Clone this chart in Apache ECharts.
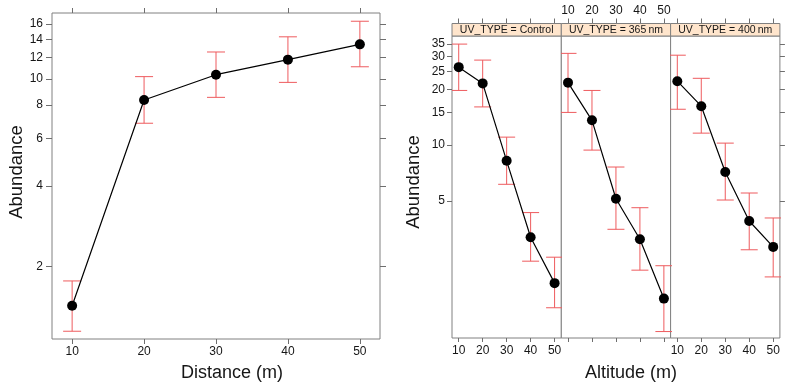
<!DOCTYPE html>
<html>
<head>
<meta charset="utf-8">
<script src="https://cdn.jsdelivr.net/npm/echarts@6/dist/echarts.min.js"></script>
<style>
html,body{margin:0;padding:0;background:#fff;}
#chart{width:791px;height:385px;}
</style>
</head>
<body>
<div id="chart"></div>
<script>
// ---------- data ----------
const distance = [10, 20, 30, 40, 50];
const distAbundance = [1.43, 8.35, 10.37, 11.8, 13.45];
const distLow = [1.15, 6.84, 8.54, 9.71, 11.1];
const distHigh = [1.77, 10.2, 12.6, 14.35, 16.4];

const altitude = [10, 20, 30, 40, 50];
const uvStripLabels = ['UV_TYPE = Control', 'UV_TYPE = 365\u2009nm', 'UV_TYPE = 400\u2009nm'];
const controlAbundance = [26.3, 21.5, 8.23, 3.19, 1.805];
const controlLow = [19.7, 16.06, 6.15, 2.37, 1.33];
const controlHigh = [35.0, 28.7, 11.04, 4.33, 2.49];
const nm365Abundance = [21.7, 13.6, 5.14, 3.11, 1.49];
const nm365Low = [15.0, 9.4, 3.52, 2.12, 0.99];
const nm365High = [31.2, 19.7, 7.62, 4.60, 2.24];
const nm400Abundance = [22.1, 16.2, 7.16, 3.90, 2.83];
const nm400Low = [15.6, 11.6, 5.06, 2.73, 1.95];
const nm400High = [30.5, 22.9, 10.25, 5.52, 4.05];

const xTickLabels = [10, 20, 30, 40, 50];
const leftYTickLabels = [2, 4, 6, 8, 10, 12, 14, 16];
const rightYTickLabels = [5, 10, 15, 20, 25, 30, 35];

// ---------- helpers ----------
const L = v => Math.log10(v);
const FONT = 'Liberation Sans, Arial, Helvetica, sans-serif';
const BORDER = '#808080';
const TICK = '#6e6e6e';
const TXT = '#161616';
const ERR = '#ee5b5e';

const xRange = [7.2, 52.8];
const leftYRange = [1.076, 17.6];
const rightYRange = [0.914, 38.7];

const panelsRight = [
  {vals: controlAbundance, lo: controlLow, hi: controlHigh},
  {vals: nm365Abundance, lo: nm365Low, hi: nm365High},
  {vals: nm400Abundance, lo: nm400Low, hi: nm400High}
];

const leftGrid = {left: 52, top: 13, width: 328, height: 326};
const rTop = 36, rHeight = 302, rLeft = 452, rWidth = 109.3, stripH = 12.5;

const grids = [Object.assign({show: true, borderColor: BORDER, borderWidth: 1, backgroundColor: '#fff'}, leftGrid)];
for (let i = 0; i < 3; i++) {
  grids.push({show: true, borderColor: BORDER, borderWidth: 1, backgroundColor: '#fff',
    left: rLeft + i * rWidth, top: rTop, width: rWidth, height: rHeight});
}

function xAx(gi, pos, ticks, labels, opts) {
  opts = opts || {};
  return {
    type: 'value', gridIndex: gi, position: pos, min: xRange[0], max: xRange[1],
    offset: opts.offset || 0,
    axisLine: {show: false, onZero: false}, splitLine: {show: false},
    axisTick: {show: ticks, customValues: xTickLabels, length: opts.tickLen || 5, lineStyle: {color: TICK, width: 1}},
    axisLabel: {show: labels, customValues: xTickLabels, fontSize: opts.fontSize || 12, color: TXT,
      fontFamily: FONT, margin: opts.margin || 7, formatter: v => String(Math.round(v))}
  };
}
function yAx(gi, pos, range, tickVals, ticks, labels, opts) {
  opts = opts || {};
  const cv = tickVals.map(L);
  return {
    type: 'value', gridIndex: gi, position: pos, min: L(range[0]), max: L(range[1]),
    axisLine: {show: false, onZero: false}, splitLine: {show: false},
    axisTick: {show: ticks, customValues: cv, length: opts.tickLen || 6, lineStyle: {color: TICK, width: 1}},
    axisLabel: {show: labels, customValues: cv, fontSize: opts.fontSize || 12, color: TXT,
      fontFamily: FONT, margin: opts.margin || 9, formatter: v => String(Math.round(Math.pow(10, v)))}
  };
}

const xAxes = [
  xAx(0, 'bottom', true, true, {tickLen: 5, margin: 7}),
  xAx(0, 'top', true, false, {tickLen: 5})
];
const yAxes = [
  yAx(0, 'left', leftYRange, leftYTickLabels, true, true, {tickLen: 6, margin: 9}),
  yAx(0, 'right', leftYRange, leftYTickLabels, true, false, {tickLen: 6})
];
for (let i = 0; i < 3; i++) {
  const gi = i + 1;
  xAxes.push(xAx(gi, 'bottom', true, i !== 1, {tickLen: 4, margin: 7}));
  xAxes.push(xAx(gi, 'top', true, i === 1, {tickLen: 5, margin: 7, offset: stripH}));
  yAxes.push(yAx(gi, 'left', rightYRange, rightYTickLabels, i === 0, i === 0, {tickLen: 5, margin: 7}));
  yAxes.push(yAx(gi, 'right', rightYRange, rightYTickLabels, i === 2, false, {tickLen: 5}));
}

function errSeries(xi, yi, xs, lo, hi, half) {
  return {
    type: 'custom', xAxisIndex: xi, yAxisIndex: yi, clip: true, z: 2, silent: true,
    data: xs.map((x, k) => [x, L(lo[k]), L(hi[k])]),
    encode: {x: 0, y: [1, 2]},
    renderItem: function (params, api) {
      const x = api.value(0);
      const a = api.coord([x, api.value(1)]);
      const b = api.coord([x, api.value(2)]);
      const st = {stroke: ERR, lineWidth: 1, fill: null};
      return {type: 'group', children: [
        {type: 'line', shape: {x1: a[0], y1: a[1], x2: b[0], y2: b[1]}, style: st},
        {type: 'line', shape: {x1: a[0] - half, y1: a[1], x2: a[0] + half, y2: a[1]}, style: st},
        {type: 'line', shape: {x1: b[0] - half, y1: b[1], x2: b[0] + half, y2: b[1]}, style: st}
      ]};
    }
  };
}
function lineSeries(xi, yi, xs, vals) {
  return {
    type: 'line', xAxisIndex: xi, yAxisIndex: yi, z: 5, silent: true,
    data: xs.map((x, k) => [x, L(vals[k])]),
    symbol: 'circle', symbolSize: 10, showSymbol: true,
    itemStyle: {color: '#000'}, lineStyle: {color: '#000', width: 1.2},
    animation: false
  };
}

const series = [
  errSeries(0, 0, distance, distLow, distHigh, 9),
  lineSeries(0, 0, distance, distAbundance)
];
panelsRight.forEach((p, i) => {
  series.push(errSeries(2 * (i + 1), 2 * (i + 1), altitude, p.lo, p.hi, 8.5));
  series.push(lineSeries(2 * (i + 1), 2 * (i + 1), altitude, p.vals));
});

const graphics = [];
for (let i = 0; i < 3; i++) {
  const x0 = rLeft + i * rWidth;
  graphics.push({type: 'rect', shape: {x: x0, y: rTop - stripH, width: rWidth, height: stripH},
    style: {fill: '#ffe5cc', stroke: BORDER, lineWidth: 1}, z: 10});
  graphics.push({type: 'text', x: x0 + rWidth / 2, y: rTop - stripH / 2 + 0.5, z: 11,
    style: {text: uvStripLabels[i], fill: TXT, font: '10.5px ' + FONT, align: 'center', verticalAlign: 'middle'}});
}
graphics.push({type: 'text', x: 232, y: 373, style: {text: 'Distance (m)', fill: TXT, font: '18px ' + FONT, align: 'center', verticalAlign: 'middle'}});
graphics.push({type: 'text', x: 631, y: 373, style: {text: 'Altitude (m)', fill: TXT, font: '18px ' + FONT, align: 'center', verticalAlign: 'middle'}});
graphics.push({type: 'text', x: 17, y: 172, rotation: Math.PI / 2, style: {text: 'Abundance', fill: TXT, font: '18.5px ' + FONT, align: 'center', verticalAlign: 'middle'}});
graphics.push({type: 'text', x: 414, y: 182, rotation: Math.PI / 2, style: {text: 'Abundance', fill: TXT, font: '18.5px ' + FONT, align: 'center', verticalAlign: 'middle'}});

const chart = echarts.init(document.getElementById('chart'), null, {renderer: 'canvas'});
chart.setOption({
  animation: false,
  backgroundColor: '#fff',
  grid: grids,
  xAxis: xAxes,
  yAxis: yAxes,
  series: series,
  graphic: graphics
});
</script>
</body>
</html>
